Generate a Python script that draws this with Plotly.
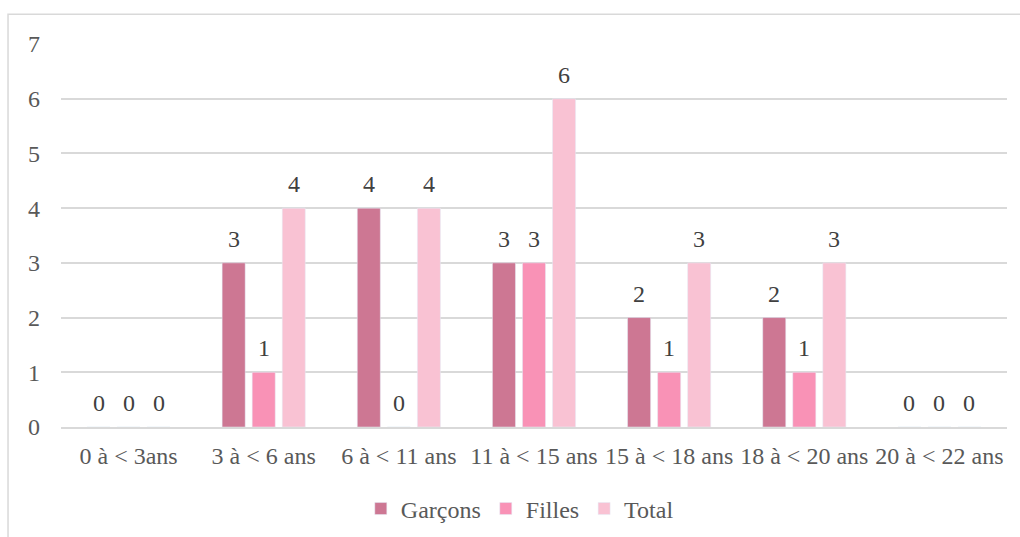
import plotly.graph_objects as go

categories = ["0 à < 3ans", "3 à < 6 ans", "6 à < 11 ans", "11 à < 15 ans",
              "15 à < 18 ans", "18 à < 20 ans", "20 à < 22 ans"]
garcons = [0, 3, 4, 3, 2, 2, 0]
filles = [0, 1, 0, 3, 1, 1, 0]
total = [0, 4, 4, 6, 3, 3, 0]

series = [
    ("Garçons", garcons, "#CD7793"),
    ("Filles", filles, "#F992B6"),
    ("Total", total, "#F9C2D3"),
]

FONT = "Liberation Serif"
TEXT_GREY = "#595959"
LABEL_GREY = "#404040"
SLOT_PX = 30  # horizontal distance between neighbouring bars of a group

fig = go.Figure()
annotations = []
for i, (name, values, color) in enumerate(series):
    fig.add_trace(go.Bar(x=categories, y=values, name=name, marker_color=color))
    # value label above each bar
    for cat, v in zip(categories, values):
        annotations.append(dict(
            x=cat, y=v, xref="x", yref="y", text=str(v), showarrow=False,
            xshift=(i - 1) * SLOT_PX, yshift=24, yanchor="middle",
            font=dict(family=FONT, size=24, color=LABEL_GREY),
        ))

fig.update_layout(
    width=1020, height=537,
    margin=dict(l=61, r=13, t=44, b=110, autoexpand=False),
    paper_bgcolor="white", plot_bgcolor="white",
    barmode="group", bargap=0.333, bargroupgap=0.233,
    font=dict(family=FONT, size=24, color=TEXT_GREY),
    showlegend=True,
    legend=dict(orientation="h", x=0.485, xanchor="center", y=-0.214, yanchor="middle",
                font=dict(family=FONT, size=24, color=TEXT_GREY), traceorder="normal"),
    annotations=annotations,
    shapes=[dict(type="rect", xref="paper", yref="paper",
                 x0=-0.056, x1=1.03, y0=-0.35, y1=1.078,
                 line=dict(color="#D9D9D9", width=1.5), layer="below")],
)
fig.update_xaxes(showgrid=False, showline=True, linecolor="#D9D9D9", linewidth=2,
                 ticks="", automargin=False, ticklabelstandoff=6,
                 tickfont=dict(family=FONT, size=24, color=TEXT_GREY))
fig.update_yaxes(range=[0, 7], dtick=1, showgrid=True, gridcolor="#D9D9D9", gridwidth=2,
                 zeroline=False, showline=False, ticks="", automargin=False,
                 ticklabelstandoff=20, tickfont=dict(family=FONT, size=24, color=TEXT_GREY))

fig.write_html("out.html")
